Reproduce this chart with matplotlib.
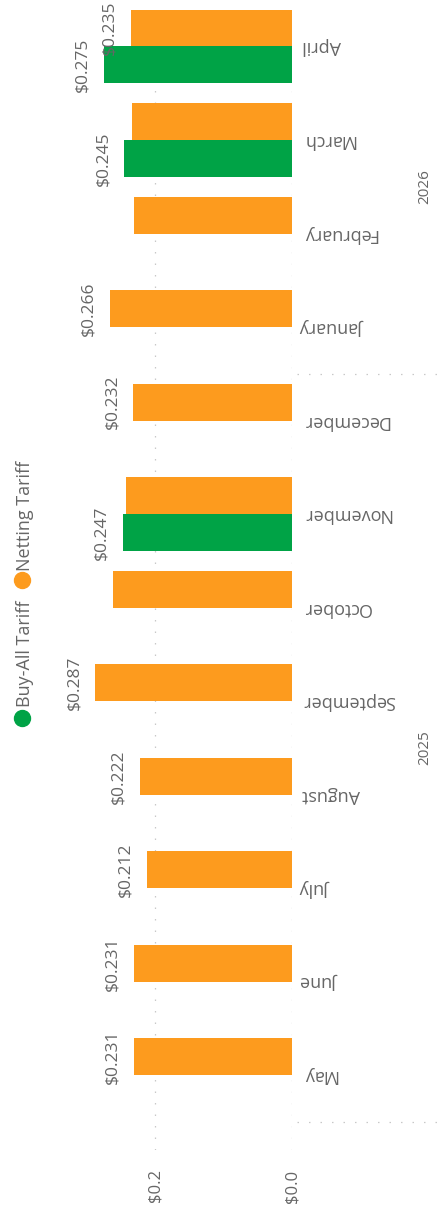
import matplotlib.pyplot as plt
import numpy as np
from matplotlib.lines import Line2D
from matplotlib.transforms import blended_transform_factory

# data
months = ['May', 'June', 'July', 'August', 'September', 'October',
          'November', 'December', 'January', 'February', 'March', 'April']
netting = [0.231, 0.231, 0.212, 0.222, 0.287, 0.262,
           0.242, 0.232, 0.266, 0.230, 0.234, 0.235]
buy_all = [None, None, None, None, None, None,
           0.247, None, None, None, 0.245, 0.275]
netting_labels = ['$0.231', '$0.231', '$0.212', '$0.222', '$0.287', None,
                  None, '$0.232', '$0.266', None, None, '$0.235']
buy_all_labels = [None, None, None, None, None, None,
                  '$0.247', None, None, None, '$0.245', '$0.275']
years = ['2025', '2026']
year_spans = [(0, 7), (8, 11)]

green = '#00A346'
orange = '#FD9B1E'
gray = '#666666'

plt.rcParams['font.family'] = ['Open Sans', 'DejaVu Sans']

W, H = 437, 1216
fig = plt.figure(figsize=(W / 100, H / 100), dpi=100)
left_px, zero_px, bottom_px = 40, 292, 1150
px_per_unit = 685
ax = fig.add_axes([left_px / W, 1 - bottom_px / H,
                   (zero_px - left_px) / W, bottom_px / H])

pos = np.arange(len(months))
h = 0.393

ax.barh(pos + h / 2, netting, height=h, color=orange, zorder=2)
bpos = [p for p, v in zip(pos, buy_all) if v is not None]
bval = [v for v in buy_all if v is not None]
ax.barh(np.array(bpos) - h / 2, bval, height=h, color=green, zorder=2)

# data labels
for p, v, t in zip(pos, netting, netting_labels):
    if t:
        ax.annotate(t, xy=(v, p + h / 2), xytext=(-9.5, 0), textcoords='offset points',
                    rotation=90, ha='right', va='center', fontsize=12.5, color=gray)
for p, v, t in zip(pos, buy_all, buy_all_labels):
    if t:
        ax.annotate(t, xy=(v, p - h / 2), xytext=(-9.5, 0), textcoords='offset points',
                    rotation=90, ha='right', va='center', fontsize=12.5, color=gray)

# month labels (upside down)
for p, m in zip(pos, months):
    ax.annotate(m, xy=(0, p), xytext=(7.5, 0), textcoords='offset points',
                rotation=180, ha='left', va='center', fontsize=13, color=gray)

ax.set_xlim((zero_px - left_px) / px_per_unit, 0)
ax.set_ylim(-0.80, 11.497)
ax.set_yticks([])
ax.set_xticks([0, 0.2])
ax.set_xticklabels(['$0.0', '$0.2'], rotation=90, fontsize=12, color=gray)
ax.tick_params(axis='x', length=0, pad=14)
for s in ax.spines.values():
    s.set_visible(False)
ax.xaxis.grid(True, color='#c8c8c8', linestyle=(0, (1.2, 8)), linewidth=0.9)
ax.set_axisbelow(True)

# year dividers and labels
tr = blended_transform_factory(fig.transFigure, ax.transData)
for yb in [-0.5, 7.5]:
    fig.add_artist(Line2D([297 / W, 1.0], [yb, yb], transform=tr,
                          color='#c8c8c8', linestyle=(0, (1.2, 8)), linewidth=0.9))
for yr, (a, b) in zip(years, year_spans):
    ax.text(425 / W, (a + b) / 2, yr, transform=tr, rotation=90,
            ha='center', va='center', fontsize=11, color=gray)

# legend
fig.add_artist(Line2D([22 / W], [1 - 718 / H], marker='o', markersize=11.5,
                      color=green, linestyle='none', transform=fig.transFigure))
fig.text(25 / W, 1 - 707 / H, 'Buy-All Tariff', rotation=90, ha='center',
         va='bottom', fontsize=13, color=gray)
fig.add_artist(Line2D([22 / W], [1 - 580 / H], marker='o', markersize=11.5,
                      color=orange, linestyle='none', transform=fig.transFigure))
fig.text(25 / W, 1 - 571 / H, 'Netting Tariff', rotation=90, ha='center',
         va='bottom', fontsize=13, color=gray)

fig.savefig('out.png', dpi=100)
